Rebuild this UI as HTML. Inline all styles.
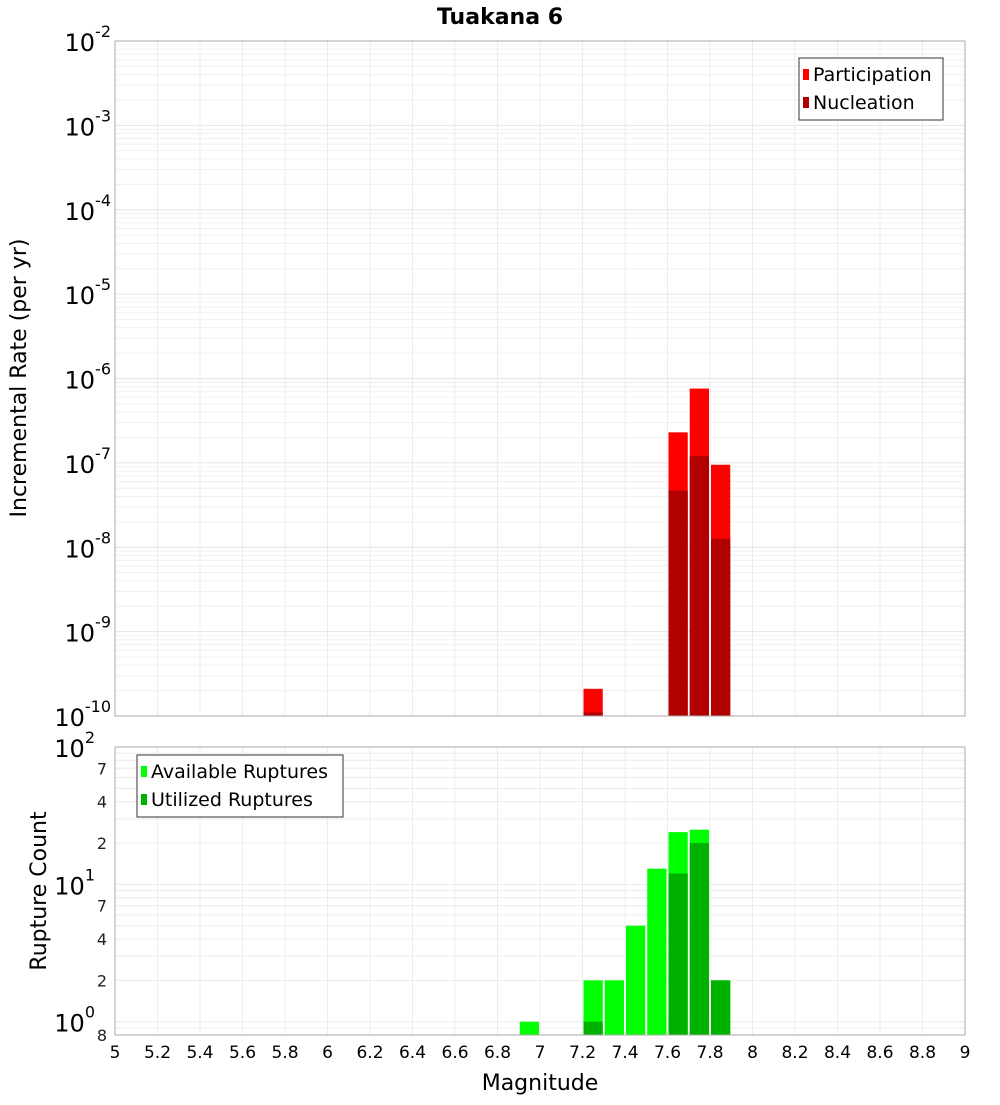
<!DOCTYPE html>
<html><head><meta charset="utf-8"><style>
body{margin:0;background:#fff;font-family:"Liberation Sans","DejaVu Sans",sans-serif}
svg text{font-family:"DejaVu Sans","Liberation Sans",sans-serif}
</style></head><body>
<svg id="c" width="1000" height="1100" xmlns="http://www.w3.org/2000/svg"></svg>
<script>
const mags=[6.95,7.25,7.35,7.45,7.55,7.65,7.75,7.85];
const partRates=[0,2.1e-10,0,0,0,2.3e-7,7.6e-7,9.5e-8];
const nuclRates=[0,1.1e-10,0,0,0,4.7e-8,1.2e-7,1.26e-8];
const availCounts=[1,2,2,5,13,24,25,2];
const usedCounts=[0,1,0,0,0,12,20,2];
const xTicks=["5","5.2","5.4","5.6","5.8","6","6.2","6.4","6.6","6.8","7","7.2","7.4","7.6","7.8","8","8.2","8.4","8.6","8.8","9"];
const topExps=[-2,-3,-4,-5,-6,-7,-8,-9,-10];
const botLabels=[["7",70],["4",40],["2",20],["7",7],["4",4],["2",2],["8",0.8]];
const NS="http://www.w3.org/2000/svg",svg=document.getElementById('c');
function el(t,a,txt,p){const e=document.createElementNS(NS,t);for(const k in a)e.setAttribute(k,a[k]);if(txt!=null)e.textContent=txt;(p||svg).appendChild(e);return e;}
const L=115,R=965;
const X=m=>L+(m-5)/4*(R-L);
const T0=41,T1=716,YT=v=>T0+(-2-Math.log10(v))/8*(T1-T0);
const B0=747,B1=1035,YB=v=>B0+(2-Math.log10(v))/(2-Math.log10(0.8))*(B1-B0);
let g;
// grids
g=el('g',{});  
for(let d=-10;d<-2;d++)for(let k=1;k<10;k++){const y=YT(k*Math.pow(10,d));el('line',{x1:L,x2:R,y1:y,y2:y,stroke:k==1?'#e4e4e4':'#f0f0f0'},null,g);}
g=el('g',{});  
for(const d of [-1,0,1])for(let k=1;k<10;k++){const v=k*Math.pow(10,d);if(v<0.8||v>100)continue;const y=YB(v);el('line',{x1:L,x2:R,y1:y,y2:y,stroke:'#ececec'},null,g);}
xTicks.forEach(t=>{const x=X(+t);el('line',{x1:x,x2:x,y1:T0,y2:T1,stroke:'#ececec'});el('line',{x1:x,x2:x,y1:B0,y2:B1,stroke:'#ececec'});});
// bars
const bw=0.1*(R-L)/4-2;
mags.forEach((m,i)=>{const x=X(m)-bw/2;
 if(partRates[i]>0){const y=YT(partRates[i]);const r=el('rect',{x:x,y:y,width:bw,height:T1-y,fill:'#ff0000'});}
 if(nuclRates[i]>0){const y=YT(nuclRates[i]);const r=el('rect',{x:x,y:y,width:bw,height:T1-y,fill:'#b20000'});}
 if(availCounts[i]>0){const y=YB(availCounts[i]);const r=el('rect',{x:x,y:y,width:bw,height:B1-y,fill:'#00ff00'});}
 if(usedCounts[i]>0){const y=YB(usedCounts[i]);const r=el('rect',{x:x,y:y,width:bw,height:B1-y,fill:'#00b200'});}
});
// frames
el('rect',{x:L,y:T0,width:R-L,height:T1-T0,fill:'none',stroke:'#aaa'});
el('rect',{x:L,y:B0,width:R-L,height:B1-B0,fill:'none',stroke:'#aaa'});
// top y labels
topExps.forEach(e=>{const y=YT(Math.pow(10,e));const t=el('text',{x:L-4,y:y+10,'text-anchor':'end','font-size':24});
 
 const s1=document.createElementNS(NS,'tspan');s1.textContent='10';t.appendChild(s1);
 const s2=document.createElementNS(NS,'tspan');s2.setAttribute('dy','-14');s2.setAttribute('font-size','16');s2.textContent=String(e);t.appendChild(s2);
 if(e<0){}});
// bottom y labels
[2,1,0].forEach(e=>{const y=YB(Math.pow(10,e));const t=el('text',{x:L-20,y:y+10,'text-anchor':'end','font-size':24});
 
 const s1=document.createElementNS(NS,'tspan');s1.textContent='10';t.appendChild(s1);
 const s2=document.createElementNS(NS,'tspan');s2.setAttribute('dy','-14');s2.setAttribute('font-size','16');s2.textContent=String(e);t.appendChild(s2);});
botLabels.forEach(([s,v])=>{const t=el('text',{x:L-8,y:YB(v)+6,'text-anchor':'end','font-size':16,fill:'#222'},s);});
// x ticks
xTicks.forEach(s=>{const t=el('text',{x:X(+s),y:1058,'text-anchor':'middle','font-size':17},s);});
let t;
t=el('text',{x:540,y:1090,'text-anchor':'middle','font-size':22},'Magnitude');
t=el('text',{x:500,y:24,'text-anchor':'middle','font-size':22,'font-weight':'bold'},'Tuakana 6');
t=el('text',{x:0,y:0,'text-anchor':'middle','font-size':22,transform:'translate(26,378) rotate(-90)'},'Incremental Rate (per yr)');
t=el('text',{x:0,y:0,'text-anchor':'middle','font-size':22,transform:'translate(46,891) rotate(-90)'},'Rupture Count');
// legends
function legend(x,y,w,items,name){const g=el('g',{});
 el('rect',{x:x,y:y,width:w,height:items.length*28+6,fill:'#fff',stroke:'#333'},null,g);
 items.forEach(([lab,col],i)=>{el('rect',{x:x+4,y:y+11+i*28,width:6,height:11,fill:col},null,g);el('text',{x:x+14,y:y+23+i*28,'font-size':19},lab,g);});}
legend(799,58,144,[['Participation','#ff0000'],['Nucleation','#b20000']],'top-legend');
legend(137,755,206,[['Available Ruptures','#00ff00'],['Utilized Ruptures','#00b200']],'bottom-legend');
</script>
</body></html>
